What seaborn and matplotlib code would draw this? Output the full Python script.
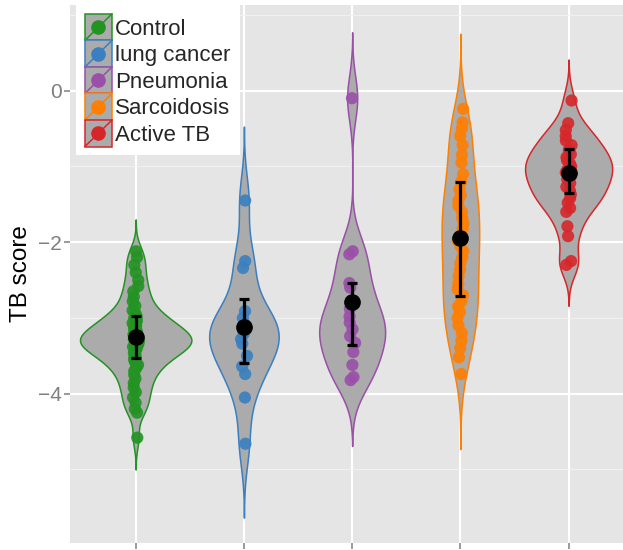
import numpy as np
import pandas as pd
import matplotlib
matplotlib.use("Agg")
import matplotlib.pyplot as plt
import seaborn as sns
from matplotlib.patches import Rectangle, Patch
from matplotlib.lines import Line2D
from matplotlib.legend_handler import HandlerBase
from matplotlib.ticker import FixedLocator

# ---------------- data ----------------
groups = ["Control", "lung cancer", "Pneumonia", "Sarcoidosis", "Active TB"]
colors = ["#239323", "#3A7FC0", "#9A4FA8", "#FF7F00", "#D7262A"]

control = [-2.12, -2.20, -2.30, -2.40, -2.50, -2.58, -2.65, -2.72, -2.78,
           -2.84, -2.90, -2.94, -2.98, -3.00, -3.03, -3.05, -3.07, -3.10,
           -3.12, -3.14, -3.16, -3.18, -3.20, -3.22, -3.24, -3.25, -3.26,
           -3.28, -3.29, -3.30, -3.31, -3.32, -3.34, -3.35, -3.36, -3.38,
           -3.40, -3.42, -3.44, -3.46, -3.48, -3.50, -3.53, -3.56, -3.59,
           -3.62, -3.66, -3.70, -3.75, -3.80, -3.86, -3.92, -3.98, -4.05,
           -4.12, -4.20, -4.25, -4.58]
lung_cancer = [-1.45, -2.25, -2.34, -2.91, -3.00, -3.08, -3.15, -3.21, -3.28,
               -3.34, -3.50, -3.64, -3.74, -4.05, -4.66]
pneumonia = [-0.10, -2.12, -2.16, -2.54, -2.60, -2.88, -2.98, -3.06, -3.15,
             -3.24, -3.33, -3.45, -3.62, -3.78, -3.82]
sarcoidosis = [-0.24, -0.42, -0.50, -0.60, -0.72, -0.85, -0.95, -1.10, -1.20,
               -1.30, -1.38, -1.45, -1.52, -1.60, -1.68, -1.75, -1.82, -1.90,
               -1.98, -2.05, -2.12, -2.20, -2.28, -2.36, -2.45, -2.55, -2.62,
               -2.70, -2.78, -2.85, -2.92, -3.00, -3.10, -3.20, -3.30, -3.40,
               -3.52, -3.74]
active_tb = [-0.13, -0.43, -0.52, -0.60, -0.66, -0.72, -0.78, -0.84, -0.88,
             -0.92, -0.96, -1.00, -1.04, -1.08, -1.12, -1.17, -1.22, -1.27,
             -1.32, -1.37, -1.42, -1.48, -1.55, -1.60, -1.79, -1.92, -2.25,
             -2.30]

# kernel bandwidth of each violin (read from how far the tails reach)
bandwidths = [0.14, 0.325, 0.29, 0.33, 0.18]

# summary (mean and error bar ends) per group
means = [-3.25, -3.12, -2.79, -1.94, -1.09]
err_low = [-3.53, -3.60, -3.36, -2.71, -1.35]
err_high = [-2.97, -2.75, -2.54, -1.21, -0.77]

yticks = [0, -2, -4]
ytick_labels = ["0", "\u22122", "\u22124"]
ylabel = "TB score"

# ---------------- frame ----------------
values = [control, lung_cancer, pneumonia, sarcoidosis, active_tb]
df = pd.DataFrame({
    "group": np.concatenate([[g] * len(v) for g, v in zip(groups, values)]),
    "score": np.concatenate(values),
})
df["group"] = pd.Categorical(df["group"], categories=groups, ordered=True)

sns.set_theme(style="darkgrid")
plt.rcParams["font.family"] = ["Liberation Sans", "DejaVu Sans"]

fig = plt.figure(figsize=(6.23, 5.5), dpi=100)
ax = fig.add_axes([70 / 623, 7 / 550, 1 - 70 / 623 + 0.01, 1 - 12 / 550])
ax.set_facecolor("#E5E5E5")


def group_bw(kde):
    d = np.sort(np.asarray(kde.dataset).ravel())
    sd = d.std(ddof=1)
    for vals, bw in zip(values, bandwidths):
        if len(vals) == len(d) and np.allclose(np.sort(vals), d):
            return bw / sd
    return len(d) ** (-0.2)


gray = "#ABABAB"
sns.violinplot(data=df, x="group", y="score", order=groups, color=gray,
               inner=None, cut=3, bw_method=group_bw, bw_adjust=1.0,
               density_norm="area", width=1.03, linewidth=1.1,
               saturation=1, ax=ax)
# colour violin outlines per group
for coll in list(ax.collections):
    verts = np.concatenate([p.vertices for p in coll.get_paths()])
    idx = int(round(verts[:, 0].mean()))
    if 0 <= idx < len(groups):
        coll.set_edgecolor(colors[idx])
        coll.set_facecolor(gray)

np.random.seed(3)
sns.stripplot(data=df, x="group", y="score", hue="group", order=groups,
              hue_order=groups, palette=dict(zip(groups, colors)),
              jitter=0.03, size=8.8, alpha=0.9, linewidth=0, legend=False,
              ax=ax, zorder=3)

pos = np.arange(len(groups))
m = np.array(means)
ax.errorbar(pos, m, yerr=[m - np.array(err_low), np.array(err_high) - m],
            fmt="none", ecolor="black", elinewidth=2.3, capsize=3.6,
            capthick=2.3, zorder=5)
ax.plot(pos, m, "o", color="black", markersize=11, zorder=6)

# axes styling
ax.set_xlim(-0.607, 4.56)
ax.set_ylim(-5.97, 1.13)
ax.yaxis.set_major_locator(FixedLocator(yticks))
ax.set_yticklabels(ytick_labels)
ax.yaxis.set_minor_locator(FixedLocator([1, -1, -3, -5]))
ax.set_xticks(pos)
ax.set_xticklabels([""] * len(groups))
ax.grid(which="major", color="white", linewidth=1.5)
ax.grid(which="minor", axis="y", color="#F2F2F2", linewidth=0.7)
ax.set_axisbelow(True)
for s in ax.spines.values():
    s.set_visible(False)
ax.tick_params(axis="both", which="major", length=4, width=1.1,
               color="#7F7F7F", labelcolor="#7F7F7F", labelsize=15, pad=2,
               bottom=True, left=True)
ax.tick_params(axis="y", which="minor", length=0)
ax.set_xlabel("")
ax.set_ylabel(ylabel, fontsize=17.5, color="black", labelpad=4)


# legend with ggplot-style keys
class KeyHandler(HandlerBase):
    def __init__(self, color):
        super().__init__()
        self.color = color

    def create_artists(self, legend, orig_handle, xdescent, ydescent,
                       width, height, fontsize, trans):
        x0, y0 = -xdescent, -ydescent
        rect = Rectangle((x0, y0), width, height, facecolor=gray,
                         edgecolor=self.color, linewidth=1.1, transform=trans)
        line = Line2D([x0, x0 + width], [y0, y0 + height], color=self.color,
                      linewidth=1.1, transform=trans)
        dot = Line2D([x0 + width / 2], [y0 + height / 2], marker="o",
                     markersize=9.5, color=self.color, linestyle="none",
                     transform=trans)
        return [rect, line, dot]


handles = [Patch(label=g) for g in groups]
hmap = {h: KeyHandler(c) for h, c in zip(handles, colors)}
leg = fig.legend(handles=handles, labels=groups, handler_map=hmap,
                 loc="upper left", bbox_to_anchor=(76 / 623, 1 - 5 / 550),
                 fontsize=16, frameon=True, fancybox=False, framealpha=1,
                 facecolor="white", edgecolor="white", handlelength=1.22,
                 handleheight=1.46, labelspacing=0.0, handletextpad=0.15,
                 borderpad=0.4, borderaxespad=0)
leg.get_frame().set_linewidth(0)

fig.savefig("out.png", dpi=100)
